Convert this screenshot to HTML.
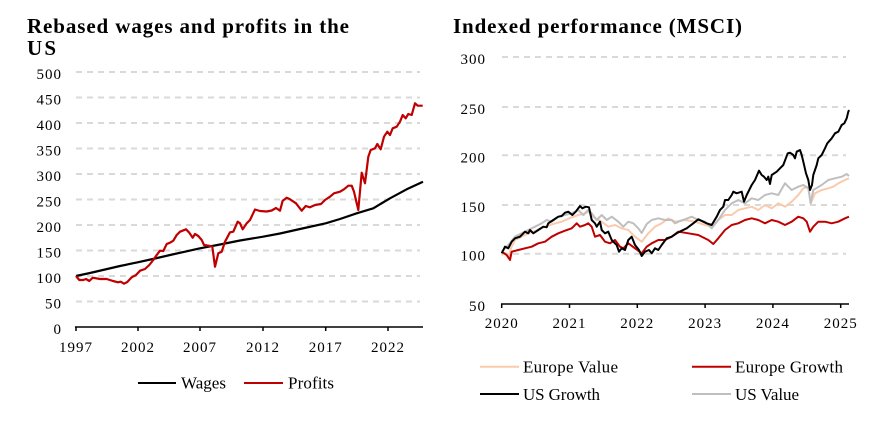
<!DOCTYPE html>
<html><head><meta charset="utf-8"><style>
html,body{margin:0;padding:0;background:#fff;}
svg{display:block;}
text{font-family:"Liberation Serif",serif;}
</style></head><body>
<svg width="885" height="423" viewBox="0 0 885 423" xmlns="http://www.w3.org/2000/svg">
<rect width="885" height="423" fill="#fff"/>
<!-- LEFT CHART -->
<text x="27" y="33" font-size="21" font-weight="bold" textLength="322" lengthAdjust="spacing">Rebased wages and profits in the</text>
<text x="27" y="55" font-size="21" font-weight="bold" textLength="29" lengthAdjust="spacing">US</text>
<g stroke="#d9d9d9" stroke-width="2" stroke-dasharray="6 5" fill="none">
<line x1="76" y1="72" x2="420" y2="72"/>
<line x1="76" y1="97.5" x2="420" y2="97.5"/>
<line x1="76" y1="123" x2="420" y2="123"/>
<line x1="76" y1="148.5" x2="420" y2="148.5"/>
<line x1="76" y1="174" x2="420" y2="174"/>
<line x1="76" y1="199.5" x2="420" y2="199.5"/>
<line x1="76" y1="225" x2="420" y2="225"/>
<line x1="76" y1="250.5" x2="420" y2="250.5"/>
<line x1="76" y1="276" x2="420" y2="276"/>
<line x1="76" y1="301.5" x2="420" y2="301.5"/>
</g>
<g font-size="15" text-anchor="end" letter-spacing="1">
<text x="62" y="79">500</text>
<text x="62" y="104.5">450</text>
<text x="62" y="130">400</text>
<text x="62" y="155.5">350</text>
<text x="62" y="181">300</text>
<text x="62" y="206.5">250</text>
<text x="62" y="232">200</text>
<text x="62" y="257.5">150</text>
<text x="62" y="283">100</text>
<text x="62" y="308.5">50</text>
<text x="62" y="334">0</text>
</g>
<line x1="75" y1="327" x2="423" y2="327" stroke="#000" stroke-width="1.5"/>
<g stroke="#000" stroke-width="1.5">
<line x1="76" y1="327" x2="76" y2="331"/>
<line x1="138" y1="327" x2="138" y2="331"/>
<line x1="200" y1="327" x2="200" y2="331"/>
<line x1="263" y1="327" x2="263" y2="331"/>
<line x1="325.7" y1="327" x2="325.7" y2="331"/>
<line x1="388" y1="327" x2="388" y2="331"/>
</g>
<g font-size="15" text-anchor="middle" letter-spacing="1">
<text x="76" y="352">1997</text>
<text x="138" y="352">2002</text>
<text x="200" y="352">2007</text>
<text x="263" y="352">2012</text>
<text x="325.7" y="352">2017</text>
<text x="388" y="352">2022</text>
</g>
<polyline fill="none" stroke="#000" stroke-width="2.2" stroke-linejoin="round" points="76,276 90,273 105,269.5 120,266 137.7,262.3 155,258.5 170,255 185,251.7 200,248.3 220,244.5 240,240.5 263,236.7 280,233.5 300,229 325.7,223.3 340,219 356.7,213.3 373.3,208.3 390,198.3 406.7,189.3 423,181.7"/>
<polyline fill="none" stroke="#c00000" stroke-width="2.2" stroke-linejoin="round" points="76,276 79.3,280 83.3,280 86,279 89.3,281 92.7,277.7 100,279 106.7,279 113,281 118,282.3 120.7,281.7 124,283.7 127.3,282 131.7,277.3 136,275 140,270.7 145,269 149.3,265 153.3,260 156.7,255 160,250.7 163.3,251 166.7,244 170,242.7 173.3,240.7 176.7,235 180,231.7 186,229.3 189.3,232.7 192.7,237.7 195,234 198.3,236 201.7,240 204,245 210,246 212.3,246.7 215,266.7 218.3,253.3 221.7,251.7 225,241.7 230,232.3 233.3,231.7 237.7,221.7 240,223.3 242.7,229.3 246.7,223.3 250,220 255,209.5 260,211 266.7,211.5 271.7,210.5 276,208 280,210.7 282.7,200.7 286.7,197.7 290,199.3 296,203.3 301.7,210.7 305.7,206 310,207.3 315,205 321,204 325,200 330,196.7 334,193.3 340,191.7 344,189.3 348.3,185.7 351.7,185.7 354,191.7 358.3,210 361.7,172.7 365,183.3 368.3,156.7 370.7,150 375,148.3 377.3,144 380.7,149.3 384,136.7 387.3,131.7 390,135 392.7,128.3 396.7,126.7 400,121.7 402.7,115 405.7,118.3 408.3,114 411.7,115 415,103.3 417.7,105.7 422.7,105.7"/>
<line x1="138" y1="383" x2="176" y2="383" stroke="#000" stroke-width="2"/>
<text x="181" y="388.3" font-size="17" textLength="45" lengthAdjust="spacing">Wages</text>
<line x1="244" y1="383" x2="283" y2="383" stroke="#c00000" stroke-width="2"/>
<text x="288" y="388.3" font-size="17" textLength="46" lengthAdjust="spacing">Profits</text>

<!-- RIGHT CHART -->
<text x="453" y="33" font-size="21" font-weight="bold" textLength="289" lengthAdjust="spacing">Indexed performance (MSCI)</text>
<g stroke="#d9d9d9" stroke-width="2" stroke-dasharray="6 5" fill="none">
<line x1="502" y1="57" x2="846" y2="57"/>
<line x1="502" y1="107" x2="846" y2="107"/>
<line x1="502" y1="155.3" x2="846" y2="155.3"/>
<line x1="502" y1="205" x2="846" y2="205"/>
<line x1="502" y1="253.7" x2="846" y2="253.7"/>
</g>
<g font-size="15" text-anchor="end" letter-spacing="1">
<text x="486" y="64">300</text>
<text x="486" y="114">250</text>
<text x="486" y="162.3">200</text>
<text x="486" y="212">150</text>
<text x="486" y="260.7">100</text>
<text x="486" y="311">50</text>
</g>
<polyline fill="none" stroke="#f8cbad" stroke-width="2" stroke-linejoin="round" points="501.7,255 505,253 508.3,258 511,248 515,240 521,237 528.3,233.3 535,231 545,226.7 553,224 561.7,221.7 570,218 578.3,215 583,214 588.3,211.7 595,218.3 601.7,221.7 608.3,226.7 615,225 621.7,228.3 628.3,230 635,236.7 641.7,241.7 648.3,233.3 655,226.7 661.7,223.3 668.3,218.3 675,221.7 685,220 695,221.7 705,225 711.7,226.7 718.3,220 725,215 731.7,215 738.3,210 745,208.3 751.7,206.7 758.3,210 765,205 771.7,208.3 778.3,203.3 785,206.7 791.7,201.7 798.3,195 803.3,188.3 808.3,186.7 810.7,203.3 815,193.3 821.7,190 828.3,188.3 833.3,186.7 838.3,183.3 845,180 849,178.3"/>
<polyline fill="none" stroke="#bfbfbf" stroke-width="2" stroke-linejoin="round" points="501.7,251.7 505,248 508.3,245 515,236.7 521.7,233.3 528.3,230 535,226.7 541.7,223.3 546.7,220 551.7,221.7 558.3,216.7 565,215 571.7,213.3 578.3,210 583.3,215 588.3,210 591.7,213.3 596.7,220 601.7,215 606.7,220 611.7,216.7 618.3,221.7 623.3,226.7 628.3,221.7 633.3,223.3 638.3,228.3 641.7,233 646.7,224 651.7,220 658.3,218.3 665,220 671.7,220 675,223.3 680,221 685,219.3 691.7,216.7 698.3,220 705,221.7 711.7,228.3 718.3,220 725,210 731.7,203.3 738.3,200 745,203.3 751.7,198.3 758.3,200 765,195 771.7,193.3 778.3,195 785,183.3 791.7,190 798.3,186.7 803.3,185 808.3,188.3 810.7,203.3 813.3,190 821.7,185 828.3,180 835,178.3 841.7,176.7 846.7,174 849,176"/>
<polyline fill="none" stroke="#c00000" stroke-width="2" stroke-linejoin="round" points="501.7,251.7 506.7,255 510,260 511.7,251.7 518.3,250 525,248.3 531.7,246.7 538.3,243.3 545,241.7 551.7,236.7 558.3,233.3 565,230.7 571.7,228.3 576.7,223.3 580,226.7 585,225 588.3,223.3 591.7,226.7 595,236.7 600,235 605,241.7 610,243.3 615,240 620,246.7 623.3,248.3 628.3,243.3 635,248.3 641.7,253.3 646.7,246.7 651.7,243.3 658.3,240 665,240 671.7,236.7 678.3,231.7 688.3,233.3 698.3,235 708.3,240 713.3,244 718.3,238.3 725,230 731.7,225 738.3,223.3 745,220 751.7,218.3 758.3,220 765,223.3 771.7,220 778.3,221.7 785,225 791.7,221.7 798.3,216.7 803.3,218.3 806.7,221.7 810,231.7 813.3,226.7 818.3,221.7 825,221.7 831.7,223.3 838.3,221.7 845,218.3 849,216.7"/>
<polyline fill="none" stroke="#000" stroke-width="2" stroke-linejoin="round" points="501.7,253.3 505,246.7 508.3,248.3 511.7,241.7 515,238.3 520,236.7 525,231.7 528.3,233.3 530,230 533.3,233.3 538.3,230 543.3,226.7 546.7,227.3 548.3,223.3 553.3,220 558.3,216.7 561.7,216 565,212.7 568.3,211.7 572.3,215 575.7,211.7 580,206 582.3,208.3 585.7,206.7 589,207.3 591.7,220 595,223.3 596.7,226.7 600,221.7 601.7,230 605,233.3 608.3,231.7 611.7,240 614.3,242.7 616.7,245 619,251.7 621.7,248.3 625,250 628.3,240 631.7,236.7 635,245 639,250 641.7,256 645,251.7 649,250 651.7,253.3 655,248.3 658.3,250 661.7,245 666.7,238.3 671.7,236.7 676.7,233.3 681,231 686.7,228.3 693.3,223.3 698.3,219.3 703.3,221.7 706.7,223.3 711.7,225 716.7,216.7 720,210 723.3,206.7 725,200 728.3,200 731.7,195 733.3,191.7 736.7,193.3 741.7,191.7 744,201.7 746.7,195 751.7,185 755,180 759,170.7 761.7,175 764,176.7 766.7,180 768.3,176.7 770,184 771.7,175 776.7,171.7 780,168.3 783.3,165 787.7,153.3 790,152.7 793.3,155 795,158.3 796.7,151.7 800,150 801.7,155 803.3,161.7 806,173.3 808.3,180 810,190 812,185 813.3,175 816.7,165 818.3,158.3 821.7,155 825,148.3 827.3,143.3 831.7,138.3 835,133.3 838.3,131.7 841.7,125 844.3,123.3 846.7,118.3 848.3,111.7 849,110"/>
<line x1="501" y1="304" x2="849" y2="304" stroke="#000" stroke-width="1.5"/>
<g stroke="#000" stroke-width="1.5">
<line x1="501.7" y1="304" x2="501.7" y2="308"/>
<line x1="569.5" y1="304" x2="569.5" y2="308"/>
<line x1="637.3" y1="304" x2="637.3" y2="308"/>
<line x1="705.1" y1="304" x2="705.1" y2="308"/>
<line x1="772.9" y1="304" x2="772.9" y2="308"/>
<line x1="840.7" y1="304" x2="840.7" y2="308"/>
</g>
<g font-size="15" text-anchor="middle" letter-spacing="1">
<text x="501.7" y="328">2020</text>
<text x="569.5" y="328">2021</text>
<text x="637.3" y="328">2022</text>
<text x="705.1" y="328">2023</text>
<text x="772.9" y="328">2024</text>
<text x="840.7" y="328">2025</text>
</g>
<line x1="480" y1="366.7" x2="519" y2="366.7" stroke="#f8cbad" stroke-width="2"/>
<text x="523" y="372.7" font-size="17" textLength="95" lengthAdjust="spacing">Europe Value</text>
<line x1="692" y1="366.7" x2="731" y2="366.7" stroke="#c00000" stroke-width="2"/>
<text x="735" y="372.7" font-size="17" textLength="108" lengthAdjust="spacing">Europe Growth</text>
<line x1="480" y1="394" x2="519" y2="394" stroke="#000" stroke-width="2"/>
<text x="523" y="400" font-size="17" textLength="77" lengthAdjust="spacing">US Growth</text>
<line x1="692" y1="394" x2="731" y2="394" stroke="#bfbfbf" stroke-width="2"/>
<text x="735" y="400" font-size="17" textLength="64" lengthAdjust="spacing">US Value</text>
</svg>
</body></html>
